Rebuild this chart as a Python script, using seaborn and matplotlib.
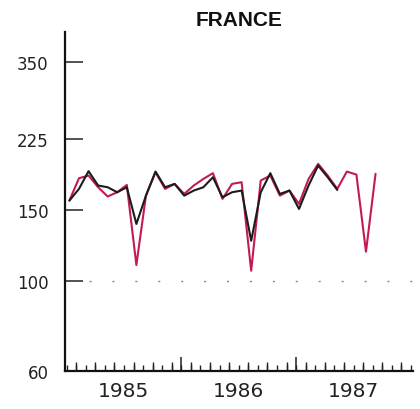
import matplotlib
matplotlib.use("Agg")
import matplotlib.pyplot as plt
import matplotlib.ticker as mticker
import pandas as pd
import seaborn as sns

# monthly index values (log scale)
months = pd.date_range("1985-01-01", periods=33, freq="MS")
adjusted = [158.5, 169.4, 187.4, 172.7, 171, 166.2, 171, 138.7, 163, 187, 171, 174.3,
            163, 167.8, 171, 181, 161.5, 166.2, 167.8, 126, 166.2, 185.3, 164.6, 167.8,
            151.1, 172.7, 193.5, 181, 168.4]
raw = [158.5, 180, 182.8, 171, 162.2, 166.2, 173.3, 109.7, 163, 186.3, 169.4, 174.3,
       164.6, 172.7, 179.3, 185.3, 160, 174.3, 176, 106.2, 177.7, 182.8, 163, 167.8,
       155.5, 179.3, 195.4, 182.8, 169.4, 187, 183.8, 118.4, 184.6]
years = ["1985", "1986", "1987"]
y_ticks = [60, 100, 150, 225, 350]

# months since Jan 1985, plotted a little into each month
m_idx = (months.year - 1985) * 12 + months.month - 1 + 0.3
df = pd.concat([
    pd.DataFrame({"m": m_idx[:len(raw)], "value": raw, "series": "raw"}),
    pd.DataFrame({"m": m_idx[:len(adjusted)], "value": adjusted, "series": "adjusted"}),
])

sns.set_style("white")
plt.rcParams["font.family"] = ["DejaVu Sans"]

fig = plt.figure(figsize=(4.2, 4.1), dpi=100)
ax = fig.add_axes([0.155, 0.093, 0.828, 0.827])

sns.lineplot(data=df, x="m", y="value", hue="series", hue_order=["raw", "adjusted"],
             palette={"raw": "#c41a52", "adjusted": "#1c1c1c"}, linewidth=1.5,
             legend=False, ax=ax)

ax.set_yscale("log")
ax.set_ylim(60, 415)
ax.set_xlim(-0.15, 36.2)
ax.set_yticks(y_ticks)
ax.set_yticklabels([str(v) for v in y_ticks])
ax.yaxis.set_minor_locator(mticker.NullLocator())
ax.tick_params(axis="y", left=True, direction="in", length=13, width=1.1, labelsize=12,
               pad=12, colors="#222222")

ax.axhline(100, xmin=0.07, xmax=1, color="#888888", lw=1, ls=(0, (1.5, 15)))

# every month a short tick inside the axis
ax.set_xticks(list(range(0, 37)))
ax.set_xticklabels([])
ax.xaxis.set_minor_locator(mticker.NullLocator())
ax.tick_params(axis="x", which="major", bottom=True, direction="in", length=4.5,
               width=1, color="#222222", labelbottom=False)

# every other month taller, year boundaries tallest
for ticks, length, width in [(range(1, 37, 2), 6.5, 1), ([12, 24], 10, 1.1)]:
    sec = ax.secondary_xaxis("bottom")
    sec.set_xticks(list(ticks))
    sec.tick_params(bottom=True, direction="in", length=length, width=width,
                    labelbottom=False, color="#222222")
    sec.spines["bottom"].set_visible(False)

# year labels under the axis
lab = ax.secondary_xaxis("bottom")
lab.set_xticks([6, 18, 30])
lab.set_xticklabels(years)
lab.tick_params(bottom=True, length=0, labelsize=14.5, pad=7, colors="#222222")
lab.spines["bottom"].set_visible(False)

ax.set_xlabel("")
ax.set_ylabel("")
ax.set_title("FRANCE", fontsize=15, fontweight="bold", pad=5,
             family=["Liberation Sans", "DejaVu Sans"], color="#111111")

for side in ["top", "right"]:
    ax.spines[side].set_visible(False)
for side in ["left", "bottom"]:
    ax.spines[side].set_color("#111111")
    ax.spines[side].set_linewidth(1.6)

fig.savefig("out.png", dpi=100, facecolor="white")
